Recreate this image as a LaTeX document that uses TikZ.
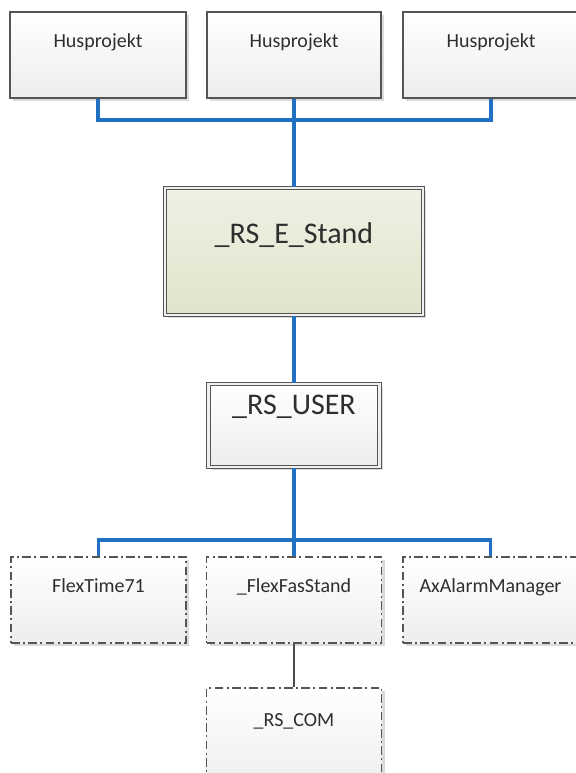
\documentclass[tikz,border=0pt]{standalone}
\usepackage{fontspec}
\setmainfont{Carlito}
\usetikzlibrary{shadows}

\definecolor{edgegray}{HTML}{555555}
\definecolor{inkgray}{HTML}{2E2E2E}
\definecolor{busblue}{HTML}{2270C4}
\definecolor{greentop}{HTML}{EEF1E4}
\definecolor{greenbot}{HTML}{DFE5CB}

\tikzset{
  boxbase/.style={rectangle, inner sep=0pt, top color=white, bottom color=black!7,
    drop shadow={shadow xshift=2.4pt, shadow yshift=-2.4pt, fill=black, opacity=0.14}},
  plainbox/.style={boxbase, draw=edgegray, line width=0.8pt,
    minimum width=#1*0.75pt, minimum height=86*0.75pt},
  dashbox/.style={boxbase, draw=edgegray, line width=0.8pt,
    dash pattern=on 6.5pt off 2.5pt on 1.5pt off 2.5pt,
    minimum width=175*0.75pt, minimum height=#1*0.75pt},
  doublebox/.style={boxbase, draw=edgegray, line width=0.8pt, double=black!6,
    double distance=1.6pt},
  greenbox/.style={doublebox, top color=greentop, bottom color=greenbot},
  small/.style={font=\fontsize{15pt}{18pt}\selectfont, text=inkgray, anchor=base, inner sep=0pt},
  big/.style={font=\fontsize{22.5pt}{27pt}\selectfont, text=inkgray, anchor=base, inner sep=0pt},
  bus/.style={draw=busblue, line width=2.3pt},
  link/.style={draw=edgegray!90!black, line width=2.1pt},
}

\begin{document}
\begin{tikzpicture}[x=0.75pt, y=-0.75pt]
  \useasboundingbox (0,0) rectangle (575,773);
  \fill[white] (0,0) rectangle (575,773);

  % top row
  \node[plainbox=176] (h1) at (98,55) {};
  \node[plainbox=174] (h2) at (294,55) {};
  \node[plainbox=176] (h3) at (491,55) {};
  \node[small] (t1) at ([yshift=-27pt]h1.north) {Husprojekt};
  \node[small] (t2) at ([yshift=-27pt]h2.north) {Husprojekt};
  \node[small] (t3) at ([yshift=-27pt]h3.north) {Husprojekt};

  % central elements
  \node[greenbox, minimum width=258*0.75pt, minimum height=127*0.75pt] (es) at (294,251.5) {};
  \node[big] (tes) at ([yshift=-42pt]es.north) {\_RS\_E\_Stand};

  \node[doublebox, minimum width=171*0.75pt, minimum height=83*0.75pt] (us) at (294,425.5) {};
  \node[big] (tus) at ([yshift=-23pt]us.north) {\_RS\_USER};

  % bottom row
  \node[dashbox=86] (f1) at (98.5,600) {};
  \node[dashbox=86] (f2) at (294,600) {};
  \node[dashbox=86] (f3) at (490.5,600) {};
  \node[small] (tf1) at ([yshift=-27pt]f1.north) {FlexTime71};
  \node[small] (tf2) at ([yshift=-27pt]f2.north) {\_FlexFasStand};
  \node[small] (tf3) at ([yshift=-27pt]f3.north) {AxAlarmManager};

  \node[dashbox=100] (rc) at (294,738) {};
  \node[small] (trc) at ([yshift=-29pt]rc.north) {\_RS\_COM};

  % connectors
  \coordinate (jt) at (294,120);
  \coordinate (jb) at (294,540);
  \draw[bus] (h1.south) |- (jt) -| (h3.south);
  \draw[bus] (h2.south) -- (es.north);
  \draw[bus] (es.south) -- (us.north);
  \draw[bus] (us.south) -- (f2.north);
  \draw[bus] (f1.north) |- (jb) -| (f3.north);
  \draw[link] (f2.south) -- (rc.north);
\end{tikzpicture}
\end{document}
